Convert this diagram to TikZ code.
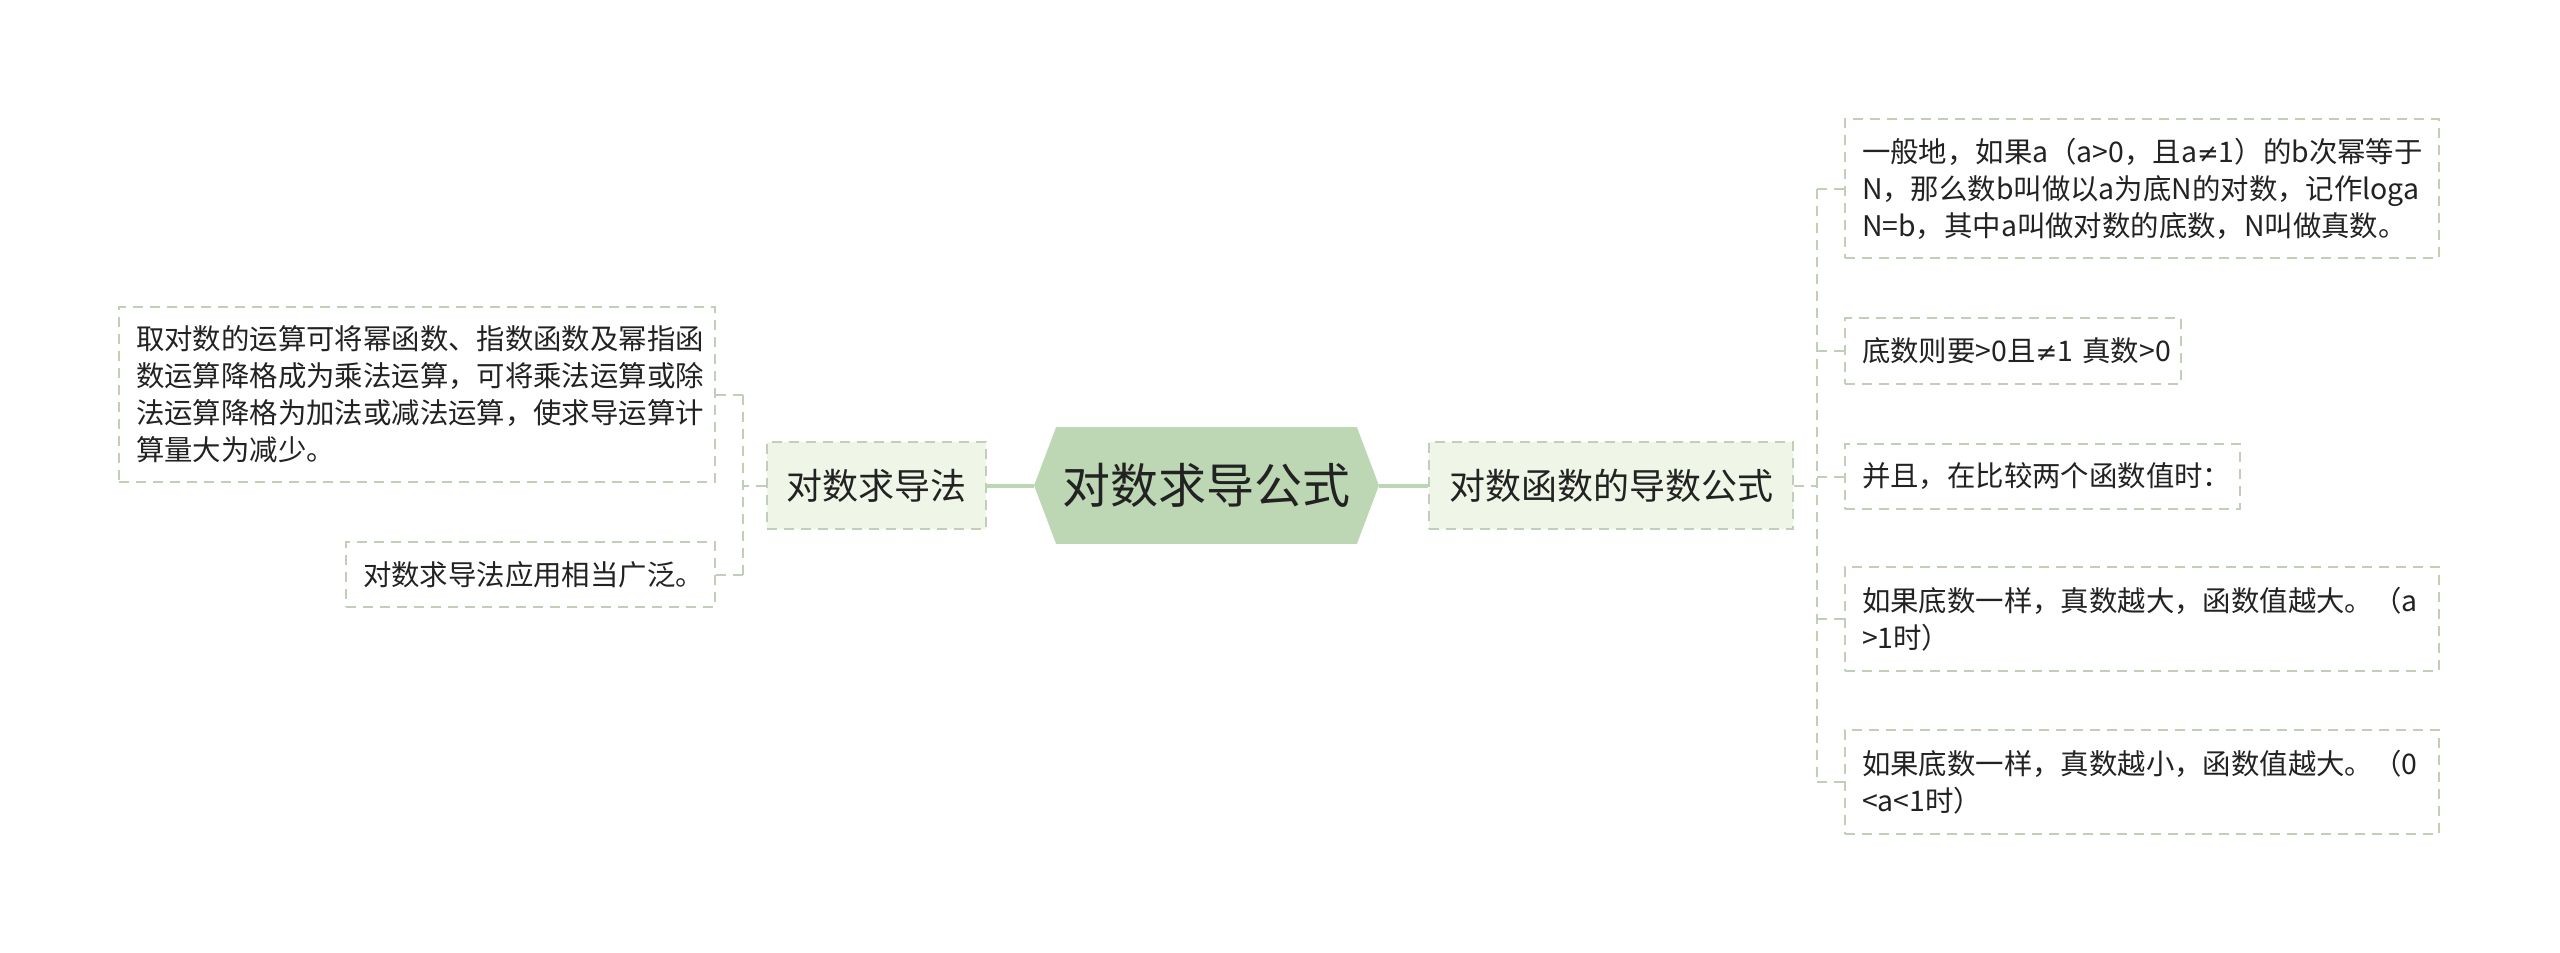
\documentclass[tikz,border=0pt]{standalone}
\usepackage{fontspec}
\setmainfont{Noto Sans CJK SC}
\newfontfamily\symfont{DejaVu Sans}
\newcommand{\myneq}{{\symfont\fontsize{13}{18.5}\selectfont ≠}}
\definecolor{hexfill}{RGB}{189,215,180}
\definecolor{midfill}{RGB}{239,245,231}
\definecolor{dashcol}{RGB}{192,207,184}
\definecolor{txt}{RGB}{34,34,34}
\tikzset{
  leafbox/.style={draw=dashcol, line width=1pt, dash pattern=on 5pt off 3.5pt, align=left,
    inner xsep=8.5pt, inner ysep=0pt, text=txt, font=\fontsize{14.2}{18.5}\selectfont, anchor=center},
  midbox/.style={draw=dashcol, fill=midfill, line width=1pt, dash pattern=on 5pt off 3.5pt,
    inner sep=0pt, text=txt, font=\fontsize{18}{22}\selectfont, minimum height=43.5pt},
  dconn/.style={draw=dashcol, line width=1pt, dash pattern=on 5pt off 3.5pt},
  sconn/.style={draw=hexfill, line width=2pt}
}
\begin{document}
\begin{tikzpicture}[x=0.5pt,y=-0.5pt]
\useasboundingbox[fill=white] (0,0) rectangle (2560,953);
% central node
\node[inner sep=0pt, minimum width=150pt, minimum height=58pt] (C) at (1206.5,485.5) {};
\fill[hexfill] (C.north west) -- (C.north east) -- ([xshift=11pt]C.east) -- (C.south east)
  -- (C.south west) -- ([xshift=-11pt]C.west) -- cycle;
\node[text=txt, font=\fontsize{24}{28}\selectfont, inner sep=0pt] (CT) at (C.center) {对数求导公式};
\coordinate (CL) at ([xshift=-11pt]C.west);
\coordinate (CR) at ([xshift=11pt]C.east);
% main branches
\node[midbox, minimum width=109.5pt] (L) at (876.5,485.5) {对数求导法};
\node[midbox, minimum width=182pt] (R) at (1611,485.5) {对数函数的导数公式};
\draw[sconn] (CL) -- (L.east);
\draw[sconn] (CR) -- (R.west);
% left leaves
\node[leafbox, text width=281pt, minimum height=87.5pt] (A) at (417,394.5)
  {取对数的运算可将幂函数、指数函数及幂指函\\数运算降格成为乘法运算，可将乘法运算或除\\法运算降格为加法或减法运算，使求导运算计\\算量大为减少。};
\node[leafbox, text width=167.5pt, minimum height=32.5pt] (B) at (530.5,574.5)
  {对数求导法应用相当广泛。};
\coordinate (TL) at (743,485.5);
\draw[dconn] (L.west) -- (TL);
\draw[dconn] (TL |- A.east) -- (TL |- B.east);
\draw[dconn] (TL |- A.east) -- (A.east);
\draw[dconn] (TL |- B.east) -- (B.east);
% right leaves
\node[leafbox, text width=280pt, minimum height=69.5pt] (R1) at (2142,188.5)
  {一般地，如果a（a>0，且a\myneq1）的b次幂等于\\N，那么数b叫做以a为底N的对数，记作loga\\N=b，其中a叫做对数的底数，N叫做真数。};
\node[leafbox, text width=151pt, minimum height=33pt] (R2) at (2013,351)
  {\mbox{底数则要>0且\myneq1 真数>0}};
\node[leafbox, text width=180.5pt, minimum height=32.5pt] (R3) at (2042.5,476.5)
  {并且，在比较两个函数值时：};
\node[leafbox, text width=280pt, minimum height=52pt] (R4) at (2142,619)
  {如果底数一样，真数越大，函数值越大。（a\\>1时）};
\node[leafbox, text width=280pt, minimum height=52pt] (R5) at (2142,782)
  {如果底数一样，真数越小，函数值越大。（0\\<a<1时）};
\coordinate (TR) at (1817,485.5);
\draw[dconn] (R.east) -- (TR);
\draw[dconn] (TR |- R1.west) -- (TR |- R5.west);
\foreach \n in {R1,R2,R3,R4,R5} {\draw[dconn] (TR |- \n.west) -- (\n.west);}
\end{tikzpicture}
\end{document}
